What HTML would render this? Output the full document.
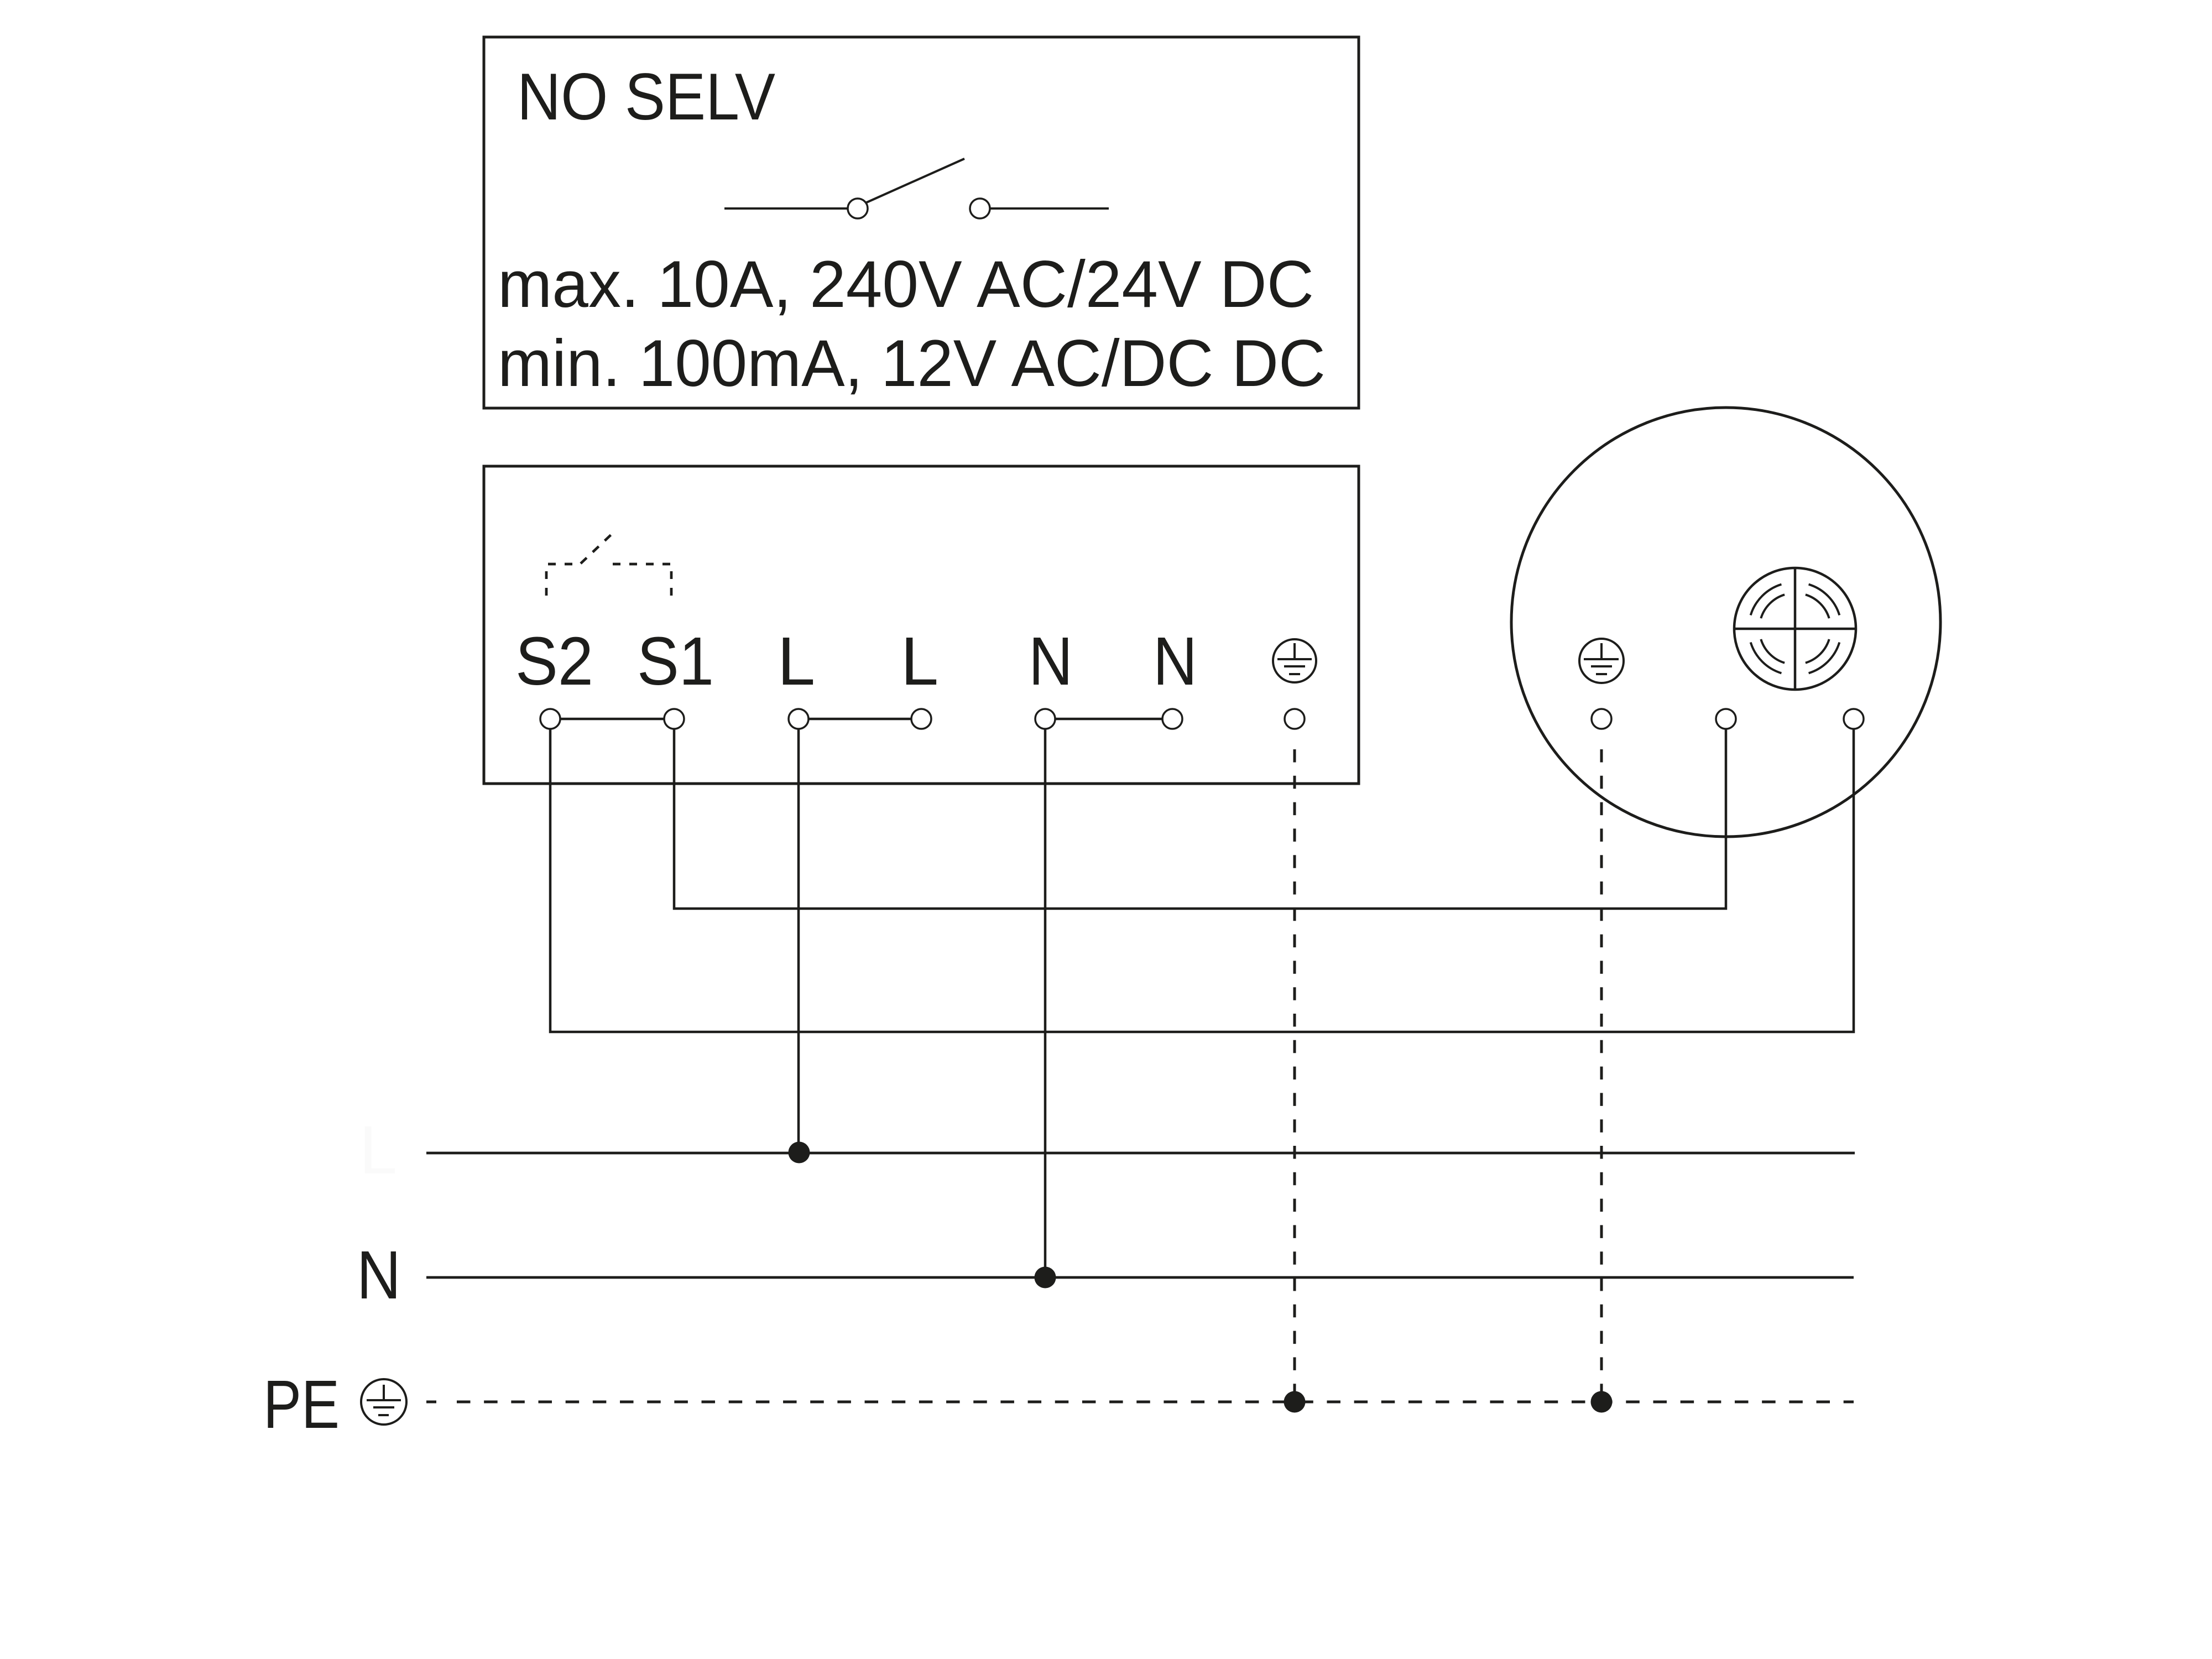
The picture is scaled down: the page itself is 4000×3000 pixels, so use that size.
<!DOCTYPE html>
<html>
<head>
<meta charset="utf-8">
<style>
  html, body { margin: 0; padding: 0; background: #ffffff; }
  svg { display: block; }
  text { font-family: "Liberation Sans", "DejaVu Sans", sans-serif; fill: #1d1d1b; }
</style>
</head>
<body>
<svg xmlns="http://www.w3.org/2000/svg" width="4000" height="3000" viewBox="0 0 4000 3000">
  <rect x="0" y="0" width="4000" height="3000" fill="#ffffff"/>

  <g stroke="#1d1d1b" fill="none">
    <!-- Top box -->
    <rect x="875" y="67" width="1582" height="671" stroke-width="5"/>
    <!-- Switch symbol -->
    <line x1="1310" y1="377" x2="1533" y2="377" stroke-width="4"/>
    <circle cx="1551" cy="377" r="18" stroke-width="3.5" fill="#fff"/>
    <line x1="1565" y1="367" x2="1744" y2="287" stroke-width="4"/>
    <circle cx="1772" cy="377" r="18" stroke-width="3.5" fill="#fff"/>
    <line x1="1790" y1="377" x2="2005" y2="377" stroke-width="4"/>

    <!-- Second box -->
    <rect x="875" y="843" width="1582" height="574" stroke-width="5"/>

    <!-- Relay dashed symbol -->
    <line x1="991" y1="1020" x2="1050" y2="1020" stroke-width="4.7" stroke-dasharray="14 16"/>
    <line x1="1050" y1="1019" x2="1106" y2="966" stroke-width="4.7" stroke-dasharray="15 15"/>
    <line x1="1108" y1="1020" x2="1212" y2="1020" stroke-width="4.7" stroke-dasharray="14 16"/>
    <line x1="988" y1="1033" x2="988" y2="1077" stroke-width="4.7" stroke-dasharray="14 16"/>
    <line x1="1214" y1="1033" x2="1214" y2="1077" stroke-width="4.7" stroke-dasharray="14 16"/>

    <!-- Terminal links -->
    <line x1="1013" y1="1300" x2="1201" y2="1300" stroke-width="4.5"/>
    <line x1="1462" y1="1300" x2="1648" y2="1300" stroke-width="4.5"/>
    <line x1="1908" y1="1300" x2="2102" y2="1300" stroke-width="4.5"/>

    <!-- Earth symbol in box 2 -->
    <circle cx="2341" cy="1195" r="39" stroke-width="4"/>
    <line x1="2341" y1="1163" x2="2341" y2="1192" stroke-width="4"/>
    <line x1="2310" y1="1192" x2="2372" y2="1192" stroke-width="4"/>
    <line x1="2322" y1="1205" x2="2360" y2="1205" stroke-width="4"/>
    <line x1="2331" y1="1219" x2="2351" y2="1219" stroke-width="4"/>

    <!-- Device big circle -->
    <circle cx="3121" cy="1125" r="388" stroke-width="5"/>

    <!-- Detector symbol -->
    <circle cx="3246" cy="1137" r="110" stroke-width="4.5"/>
    <line x1="3136" y1="1137" x2="3356" y2="1137" stroke-width="4.5"/>
    <line x1="3246" y1="1027" x2="3246" y2="1247" stroke-width="4.5"/>
    <path d="M3165.7,1112.4 A84,84 0 0 1 3221.4,1056.7" stroke-width="4"/>
    <path d="M3184.3,1118.1 A64.5,64.5 0 0 1 3227.1,1075.3" stroke-width="4"/>
    <path d="M3270.6,1056.7 A84,84 0 0 1 3326.3,1112.4" stroke-width="4"/>
    <path d="M3264.9,1075.3 A64.5,64.5 0 0 1 3307.7,1118.1" stroke-width="4"/>
    <path d="M3165.7,1161.6 A84,84 0 0 0 3221.4,1217.3" stroke-width="4"/>
    <path d="M3184.3,1155.9 A64.5,64.5 0 0 0 3227.1,1198.7" stroke-width="4"/>
    <path d="M3270.6,1217.3 A84,84 0 0 0 3326.3,1161.6" stroke-width="4"/>
    <path d="M3264.9,1198.7 A64.5,64.5 0 0 0 3307.7,1155.9" stroke-width="4"/>

    <!-- Earth symbol in device -->
    <circle cx="2896" cy="1195" r="40" stroke-width="4"/>
    <line x1="2896" y1="1163" x2="2896" y2="1192" stroke-width="4"/>
    <line x1="2864" y1="1192" x2="2927" y2="1192" stroke-width="4"/>
    <line x1="2877" y1="1205" x2="2915" y2="1205" stroke-width="4"/>
    <line x1="2886" y1="1219" x2="2906" y2="1219" stroke-width="4"/>

    <!-- Wires -->
    <path d="M995,1318 V1866 H3352 V1318" stroke-width="4.5"/>
    <path d="M1219,1318 V1643 H3121 V1318" stroke-width="4.5"/>
    <line x1="1444" y1="1318" x2="1444" y2="2085" stroke-width="4.5"/>
    <line x1="1890" y1="1318" x2="1890" y2="2310" stroke-width="4.5"/>
    <line x1="2341" y1="1355" x2="2341" y2="2535" stroke-width="5" stroke-dasharray="23.5 24.3"/>
    <line x1="2896" y1="1355" x2="2896" y2="2535" stroke-width="5" stroke-dasharray="23.5 24.3"/>

    <!-- Buses -->
    <line x1="771" y1="2085" x2="3354" y2="2085" stroke-width="4.7"/>
    <line x1="771" y1="2310" x2="3352" y2="2310" stroke-width="4.7"/>
    <line x1="771" y1="2535" x2="789" y2="2535" stroke-width="5"/>
    <line x1="826" y1="2535" x2="3352" y2="2535" stroke-width="5" stroke-dasharray="24.5 24.67"/>

    <!-- PE earth symbol -->
    <circle cx="694" cy="2535" r="41" stroke-width="4"/>
    <line x1="694" y1="2504" x2="694" y2="2532" stroke-width="4"/>
    <line x1="663" y1="2532" x2="725" y2="2532" stroke-width="4"/>
    <line x1="675" y1="2545" x2="713" y2="2545" stroke-width="4"/>
    <line x1="684" y1="2559" x2="703" y2="2559" stroke-width="4"/>
  </g>

  <!-- Terminals -->
  <g stroke="#1d1d1b" stroke-width="3.5" fill="#ffffff">
    <circle cx="995" cy="1300" r="18"/>
    <circle cx="1219" cy="1300" r="18"/>
    <circle cx="1444" cy="1300" r="18"/>
    <circle cx="1666" cy="1300" r="18"/>
    <circle cx="1890" cy="1300" r="18"/>
    <circle cx="2120" cy="1300" r="18"/>
    <circle cx="2341" cy="1300" r="18"/>
    <circle cx="2896" cy="1300" r="18"/>
    <circle cx="3121" cy="1300" r="18"/>
    <circle cx="3352" cy="1300" r="18"/>
  </g>

  <!-- Junction dots -->
  <g fill="#1d1d1b">
    <circle cx="1445" cy="2084" r="19.5"/>
    <circle cx="1890" cy="2310" r="19.5"/>
    <circle cx="2341" cy="2535" r="19.5"/>
    <circle cx="2896" cy="2535" r="19.5"/>
  </g>

  <!-- Text: top box -->
  <text x="935" y="216" font-size="120" textLength="467" lengthAdjust="spacingAndGlyphs">NO SELV</text>
  <text x="900" y="555" font-size="120" textLength="1476" lengthAdjust="spacingAndGlyphs">max. 10A, 240V AC/24V DC</text>
  <text x="900" y="698" font-size="120" textLength="1497" lengthAdjust="spacingAndGlyphs">min. 100mA, 12V AC/DC DC</text>

  <!-- Text: terminal labels -->
  <text x="932" y="1238" font-size="123" textLength="141" lengthAdjust="spacingAndGlyphs">S2</text>
  <text x="1152" y="1238" font-size="123" textLength="139" lengthAdjust="spacingAndGlyphs">S1</text>
  <text x="1440" y="1238" font-size="123" text-anchor="middle">L</text>
  <text x="1663" y="1238" font-size="123" text-anchor="middle">L</text>
  <text x="1900" y="1238" font-size="123" text-anchor="middle" textLength="80" lengthAdjust="spacingAndGlyphs">N</text>
  <text x="2125" y="1238" font-size="123" text-anchor="middle" textLength="80" lengthAdjust="spacingAndGlyphs">N</text>

  <!-- Bus labels -->
  <text x="684" y="2122" font-size="123" text-anchor="middle" style="fill:#fafafa">L</text>
  <text x="685" y="2348" font-size="123" text-anchor="middle" textLength="80" lengthAdjust="spacingAndGlyphs">N</text>
  <text x="476" y="2582" font-size="123" textLength="138" lengthAdjust="spacingAndGlyphs">PE</text>
</svg>
</body>
</html>
